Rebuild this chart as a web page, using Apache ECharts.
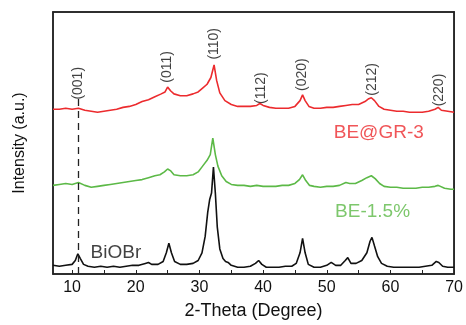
<!DOCTYPE html>
<html>
<head>
<meta charset="UTF-8">
<title>XRD</title>
<script src="https://cdn.jsdelivr.net/npm/echarts@6/dist/echarts.min.js"></script>
<style>
  html, body { margin: 0; padding: 0; background: #fff; }
  #chart { width: 466px; height: 325px; }
</style>
</head>
<body>
<div id="chart"></div>
<script type="text/javascript">
// 2-theta / intensity pairs (a.u.)
var biobr = [
  [7, 9], [8, 8], [9, 9], [10, 10], [10.5, 14], [10.9, 21], [11.3, 16], [11.8, 10],
  [12.5, 8], [13.5, 7], [14.5, 8], [15.5, 7], [16.5, 8], [17.5, 7], [18.5, 8], [19.5, 9],
  [20.5, 9], [21.5, 11], [22, 12], [22.5, 10], [23.5, 10], [24.3, 13], [24.8, 22], [25.2, 32],
  [25.6, 22], [26.1, 13], [27, 10], [28, 10], [29, 11], [29.8, 14], [30.4, 22], [30.9, 39],
  [31.3, 64], [31.6, 77], [31.9, 84], [32.2, 111], [32.5, 84], [32.8, 49], [33.2, 26], [33.7, 16],
  [34.1, 13], [34.5, 12], [35, 9], [36, 7], [37, 7], [38, 8], [38.8, 11], [39.3, 14],
  [39.8, 10], [40.5, 7], [41.5, 7], [42.5, 7], [43.5, 8], [44.5, 8], [45.2, 11], [45.8, 22],
  [46.2, 37], [46.6, 22], [47.1, 10], [48, 7], [49, 7], [50, 9], [50.7, 12], [51.4, 9],
  [52.2, 9], [52.9, 14], [53.3, 17], [53.8, 11], [54.6, 11], [55.5, 14], [56.3, 22], [56.8, 34],
  [57.1, 38], [57.5, 29], [58, 18], [58.6, 11], [59.5, 8], [60.5, 7], [61.5, 7], [62.5, 7],
  [63.5, 7], [64.5, 7], [65.5, 8], [66.5, 9], [67.2, 13], [67.6, 12], [68.2, 8], [69, 7], [70, 7]
];
var be15 = [
  [7, 92], [8, 93], [9, 94], [10, 93], [11, 95], [12, 92], [13, 90], [14, 91],
  [15, 92], [16, 93], [17, 94], [18, 95], [19, 96], [20, 97], [21, 98], [22, 100],
  [23, 102], [23.8, 103], [24.5, 106], [25, 109], [25.5, 107], [26, 103], [27, 102], [28, 102],
  [29, 103], [29.8, 106], [30.5, 112], [31.2, 118], [31.7, 124], [32.1, 141], [32.5, 124], [32.9, 112],
  [33.5, 102], [34.2, 96], [35, 93], [36, 92], [37, 92], [38, 91], [39, 92], [40, 91],
  [41, 91], [42, 91], [43, 92], [44, 92], [45, 94], [45.7, 98], [46.2, 103], [46.7, 97],
  [47.3, 92], [48, 91], [49, 90], [50, 91], [51, 91], [52, 92], [53, 95], [53.6, 94],
  [54.5, 94], [55.5, 97], [56.3, 100], [57, 102], [57.6, 99], [58.3, 94], [59, 91], [60, 90],
  [61, 90], [62, 89], [63, 89], [64, 89], [65, 90], [66, 90], [67, 91], [67.5, 92],
  [68.5, 89], [69.5, 88], [70, 88]
];
var beGr3 = [
  [7, 171], [8, 171], [9, 172], [10, 171], [11, 172], [12, 170], [13, 169], [14, 168],
  [15, 169], [16, 170], [17, 171], [18, 173], [19, 174], [20, 176], [21, 179], [22, 181],
  [23, 184], [24, 187], [24.6, 189], [25, 194], [25.5, 190], [26, 187], [27, 185], [28, 185],
  [29, 187], [29.8, 189], [30.5, 193], [31.2, 197], [31.8, 204], [32.3, 217], [32.7, 201], [33.2, 188],
  [34, 180], [35, 176], [36, 174], [37, 174], [38, 174], [39, 175], [39.5, 177], [40, 175],
  [41, 173], [42, 172], [43, 172], [44, 172], [45, 174], [45.8, 180], [46.2, 186], [46.6, 180],
  [47.2, 174], [48, 172], [49, 172], [50, 173], [51, 173], [52, 174], [53, 175], [54, 176],
  [55, 176], [56, 179], [56.6, 182], [57, 183], [57.5, 180], [58.2, 174], [59, 171], [60, 170],
  [61, 169], [62, 169], [63, 168], [64, 168], [65, 168], [66, 169], [67, 171], [67.5, 173],
  [68, 170], [69, 169], [70, 168]
];
// peak indices [2-theta, label height]
var peakNames = ['(001)', '(011)', '(110)', '(112)', '(020)', '(212)', '(220)'];
var peakPos = [[10.9, 198], [24.9, 215], [32.3, 239], [39.7, 193], [46.2, 207], [57.1, 202], [67.7, 191]];
// curve names placed beside each pattern
var curveNames = ['BE@GR-3', 'BE-1.5%', 'BiOBr'];
var curvePos = [[51.1, 147], [51.3, 65], [12.9, 22]];
var curveColors = ['#ec2b2e', '#5cb947', '#111111'];
var xLabels = [10, 20, 30, 40, 50, 60, 70];
var xTicks = [10, 15, 20, 25, 30, 35, 40, 45, 50, 55, 60, 65, 70];
var xRange = [7, 70];
var yRange = [0, 272];

var font = 'Liberation Sans';
var axisLineStyle = { color: '#222', width: 1.5 };

var option = {
    animation: false,
    backgroundColor: '#fff',
    grid: { left: 53, right: 9, top: 12, bottom: 41, show: true, borderColor: '#222', borderWidth: 1.5 },
    xAxis: [{
        type: 'value', min: xRange[0], max: xRange[1],
        name: '2-Theta (Degree)', nameLocation: 'middle', nameGap: 28,
        nameTextStyle: { fontFamily: font, fontSize: 18, color: '#111', verticalAlign: 'top' },
        axisLine: { lineStyle: axisLineStyle },
        axisTick: { inside: true, length: 4, customValues: xTicks, lineStyle: { color: '#222' } },
        axisLabel: { customValues: xLabels, margin: 6, fontFamily: font, fontSize: 16, color: '#111' },
        splitLine: { show: false }
    }, {
        // top edge of the box
        type: 'value', min: xRange[0], max: xRange[1], position: 'top',
        axisLine: { show: true, onZero: false, lineStyle: axisLineStyle },
        axisTick: { show: false }, axisLabel: { show: false }, splitLine: { show: false }
    }],
    yAxis: [{
        type: 'value', min: yRange[0], max: yRange[1],
        name: 'Intensity (a.u.)', nameLocation: 'middle', nameGap: 25,
        nameTextStyle: { fontFamily: font, fontSize: 16, color: '#111' },
        axisLine: { show: true, lineStyle: axisLineStyle },
        axisTick: { show: false },
        axisLabel: { show: false },
        splitLine: { show: false }
    }, {
        // right edge of the box
        type: 'value', min: yRange[0], max: yRange[1], position: 'right',
        axisLine: { show: true, onZero: false, lineStyle: axisLineStyle },
        axisTick: { show: false }, axisLabel: { show: false }, splitLine: { show: false }
    }],
    series: [
        {
            type: 'line', data: beGr3, showSymbol: false,
            lineStyle: { color: curveColors[0], width: 1.6 }
        },
        {
            type: 'line', data: be15, showSymbol: false,
            lineStyle: { color: curveColors[1], width: 1.6 }
        },
        {
            type: 'line', data: biobr, showSymbol: false,
            lineStyle: { color: curveColors[2], width: 1.6 },
            markLine: {
                silent: true, symbol: 'none', label: { show: false },
                lineStyle: { color: '#222', width: 1.3, type: [7, 5] },
                data: [[{ coord: [10.9, 0] }, { coord: [10.9, 184] }]]
            }
        },
        {
            type: 'scatter', symbolSize: 0, silent: true,
            data: peakPos.map(function (p, i) { return { value: p, name: peakNames[i] }; }),
            label: {
                show: true, position: 'inside', rotate: 90,
                formatter: '{b}', fontFamily: font, fontSize: 14, color: '#111'
            }
        },
        {
            type: 'scatter', symbolSize: 0, silent: true,
            data: curvePos.map(function (p, i) {
                return { value: p, name: curveNames[i], label: { color: curveColors[i] } };
            }),
            label: {
                show: true, position: 'inside', align: 'left', verticalAlign: 'middle',
                formatter: '{b}', fontFamily: font, fontSize: 19
            }
        }
    ]
};

var myChart = echarts.init(document.getElementById('chart'));
myChart.setOption(option);
</script>
</body>
</html>
